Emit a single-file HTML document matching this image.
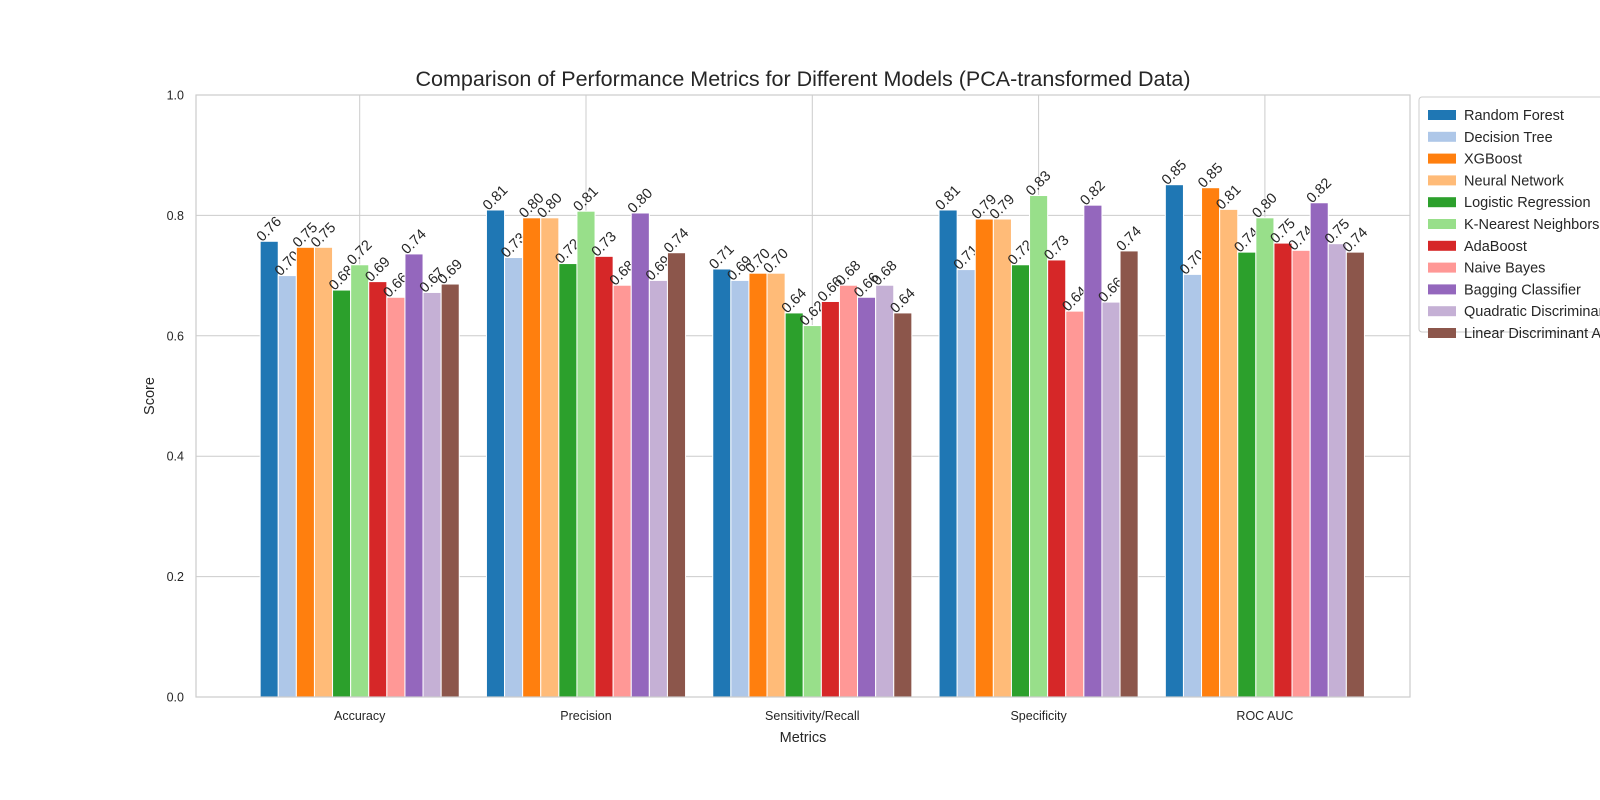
<!DOCTYPE html>
<html><head><meta charset="utf-8"><style>
html,body{margin:0;padding:0;background:#fff;width:1600px;height:800px;overflow:hidden}
text{font-family:"Liberation Sans",sans-serif;fill:#262626}
</style></head><body>
<svg id="chart" width="1600" height="800" xmlns="http://www.w3.org/2000/svg"></svg>
<script>
const categories=["Accuracy","Precision","Sensitivity/Recall","Specificity","ROC AUC"];
const models=["Random Forest","Decision Tree","XGBoost","Neural Network","Logistic Regression","K-Nearest Neighbors","AdaBoost","Naive Bayes","Bagging Classifier","Quadratic Discriminant Analysis","Linear Discriminant Analysis"];
const colors=["#1f77b4","#aec7e8","#ff7f0e","#ffbb78","#2ca02c","#98df8a","#d62728","#ff9896","#9467bd","#c5b0d5","#8c564b"];
const values=[
[0.757,0.809,0.711,0.809,0.851],
[0.700,0.730,0.692,0.710,0.702],
[0.747,0.796,0.704,0.794,0.846],
[0.747,0.796,0.704,0.794,0.810],
[0.676,0.720,0.638,0.718,0.739],
[0.718,0.807,0.617,0.833,0.796],
[0.690,0.732,0.657,0.726,0.754],
[0.664,0.684,0.684,0.641,0.742],
[0.736,0.804,0.664,0.817,0.821],
[0.672,0.692,0.684,0.656,0.753],
[0.686,0.738,0.638,0.741,0.739]];
const yTicks=[0,0.2,0.4,0.6,0.8,1.0];
const NS="http://www.w3.org/2000/svg";
const svg=document.getElementById("chart");
const L=196,R=1410,T=95,B=697;
const catStep=226.3, cat0=359.7, barW=18.1;
function y(v){return B-(B-T)*v;}
function xc(ci){return cat0+ci*catStep;}
function mk(tag,attrs,parent){const e=document.createElementNS(NS,tag);for(const k in attrs)e.setAttribute(k,attrs[k]);(parent||svg).appendChild(e);return e;}
yTicks.forEach(t=>{
 const g=mk("line",{x1:L,x2:R,y1:y(t),y2:y(t),stroke:"#cccccc","stroke-width":1});
 
 
 const tx=mk("text",{x:L-12,y:y(t)+4.5,"text-anchor":"end","font-size":12.5});
 tx.textContent=t.toFixed(1);
 
 
});
categories.forEach((c,ci)=>{
 const g=mk("line",{x1:xc(ci),x2:xc(ci),y1:T,y2:B,stroke:"#cccccc","stroke-width":1});
 
 
 const tx=mk("text",{x:xc(ci),y:B+23,"text-anchor":"middle","font-size":12.5});
 tx.textContent=c;
 
 
});
models.forEach((m,mi)=>{
 categories.forEach((c,ci)=>{
  const v=values[mi][ci];
  const cx=xc(ci)+(mi-5)*barW;
  const r=mk("rect",{x:cx-barW/2,y:y(v),width:barW,height:B-y(v),fill:colors[mi],stroke:"#fff","stroke-width":1});
  
  
  const tx=mk("text",{x:0,y:0,"text-anchor":"middle","font-size":14.5,transform:`translate(${cx+3},${y(v)-9}) rotate(-45)`});
  tx.textContent=v.toFixed(2);
  
  
 });
});
const frame=mk("rect",{x:L,y:T,width:R-L,height:B-T,fill:"none",stroke:"#cccccc","stroke-width":1.2});


const title=mk("text",{x:803,y:86,"text-anchor":"middle","font-size":21.5});
title.textContent="Comparison of Performance Metrics for Different Models (PCA-transformed Data)";


const xl=mk("text",{x:803,y:742,"text-anchor":"middle","font-size":14.5});
xl.textContent="Metrics";


const yl=mk("text",{x:0,y:0,"text-anchor":"middle","font-size":14.5,transform:"translate(154,396) rotate(-90)"});
yl.textContent="Score";


const lg=mk("g",{});


const lb=mk("rect",{x:1419,y:97,width:200,height:235,rx:3,fill:"#fff",stroke:"#cccccc","stroke-width":1},lg);


models.forEach((m,mi)=>{
 const yy=115+mi*21.8;
 const p=mk("rect",{x:1428,y:yy-5,width:28,height:10,fill:colors[mi]},lg);
 
 
 const t=mk("text",{x:1464,y:yy+5,"font-size":14.5},lg);
 t.textContent=m;
 
 
});
</script>
</body></html>
